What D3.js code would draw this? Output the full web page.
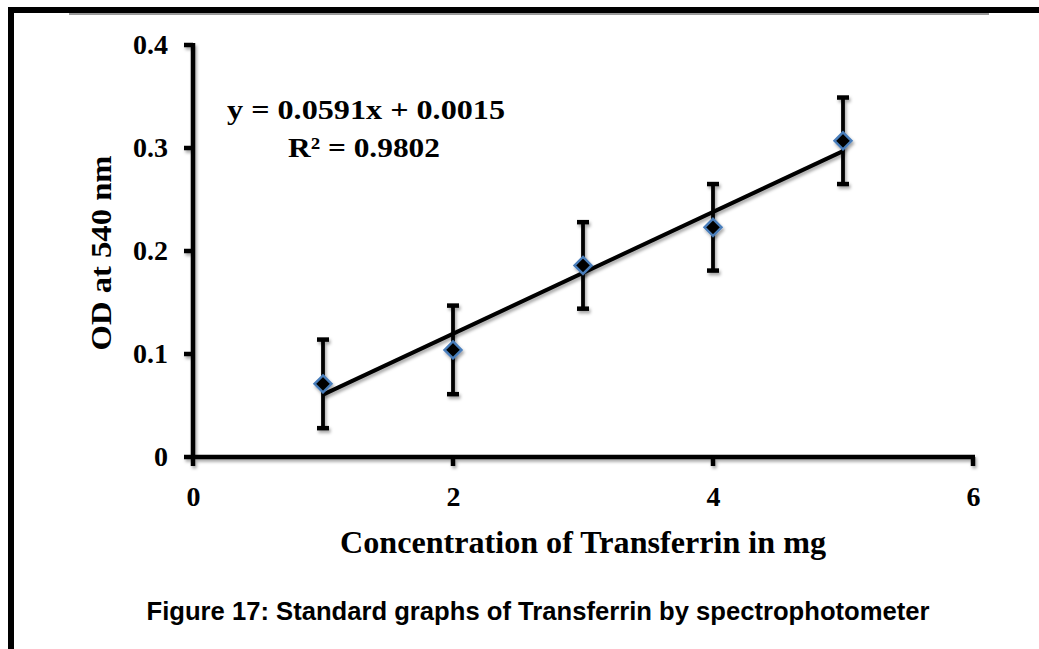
<!DOCTYPE html>
<html>
<head>
<meta charset="utf-8">
<script src="https://cdn.jsdelivr.net/npm/d3@7"></script>
<style>
  html, body { margin: 0; padding: 0; background: #fff; }
  svg { display: block; }
</style>
</head>
<body>
<script>
// ---- data ----
const concentrations = [1, 2, 3, 4, 5];
const odValues = [0.071, 0.104, 0.186, 0.223, 0.307];
const errorValues = [0.043, 0.043, 0.042, 0.042, 0.042];
const xTicks = [0, 2, 4, 6];
const yTicks = [0, 0.1, 0.2, 0.3, 0.4];
const trendSlope = [0.0591];
const trendIntercept = [0.0015];
const equationText = ["y = 0.0591x + 0.0015", "R² = 0.9802"];
const xTitle = "Concentration of Transferrin in mg";
const yTitle = "OD at 540 nm";
const caption = "Figure 17: Standard graphs of Transferrin by spectrophotometer";

const W = 1039, H = 649;
const svg = d3.select("body").append("svg").attr("width", W).attr("height", H);
svg.append("rect").attr("width", W).attr("height", H).attr("fill", "#fff");

const defs = svg.append("defs");
const f = defs.append("filter").attr("id", "shadow").attr("filterUnits", "userSpaceOnUse")
  .attr("x", 0).attr("y", 0).attr("width", W).attr("height", H);
f.append("feDropShadow").attr("dx", 1.5).attr("dy", 2.5).attr("stdDeviation", 1.5).attr("flood-color", "#000").attr("flood-opacity", 0.35);

// page frame
svg.append("rect").attr("x", 8).attr("y", 7).attr("width", W - 8).attr("height", 6).attr("fill", "#000");
svg.append("rect").attr("x", 8).attr("y", 7).attr("width", 6).attr("height", H - 7).attr("fill", "#000");
svg.append("rect").attr("x", 69).attr("y", 13).attr("width", 920).attr("height", 2).attr("fill", "#9a9a9a");

const x = d3.scaleLinear().domain([0, 6]).range([193, 973]);
const y = d3.scaleLinear().domain([0, 0.4]).range([457, 45]);

const serif = "'Liberation Serif', 'Times New Roman', serif";

// axes (labels via d3 axis, lines drawn explicitly for thickness)
const gx = svg.append("g").attr("transform", `translate(0,${y(0)})`)
  .call(d3.axisBottom(x).tickValues(xTicks).tickSize(8).tickPadding(20).tickFormat(d3.format("d")));
const gy = svg.append("g").attr("transform", `translate(${x(0)},0)`)
  .call(d3.axisLeft(y).tickValues(yTicks).tickSize(8).tickPadding(17).tickFormat(d => d === 0 ? "0" : d3.format(".1f")(d)));
[gx, gy].forEach(g => {
  g.attr("font-size", null).attr("font-family", null);
  g.select(".domain").remove();
  g.selectAll(".tick line").remove();
  g.selectAll(".tick text").attr("fill", "#000")
    .style("font-family", serif).style("font-weight", "bold").style("font-size", "28px");
});
gx.selectAll(".tick text").attr("dy", "0.75em");

const axisLines = svg.append("g").attr("filter", "url(#shadow)")
  .attr("stroke", "#000").attr("stroke-width", 4.5).attr("fill", "none");
axisLines.append("line").attr("x1", x(0) - 2).attr("x2", x(6) + 2).attr("y1", y(0)).attr("y2", y(0));
axisLines.append("line").attr("x1", x(0)).attr("x2", x(0)).attr("y1", y(0) + 2).attr("y2", y(0.4) - 2);
axisLines.selectAll(".xt").data(xTicks).join("line").attr("class", "xt")
  .attr("x1", d => x(d)).attr("x2", d => x(d)).attr("y1", y(0)).attr("y2", y(0) + 9);
axisLines.selectAll(".yt").data(yTicks).join("line").attr("class", "yt")
  .attr("x1", x(0) - 9).attr("x2", x(0)).attr("y1", d => y(d)).attr("y2", d => y(d));

// error bars
const eb = svg.append("g").attr("filter", "url(#shadow)");
concentrations.forEach((c, i) => {
  const cx = x(c), v = odValues[i], e = errorValues[i];
  eb.append("line").attr("x1", cx).attr("x2", cx).attr("y1", y(v + e)).attr("y2", y(v - e))
    .attr("stroke", "#000").attr("stroke-width", 3.8);
  [v + e, v - e].forEach(t => {
    eb.append("line").attr("x1", cx - 6).attr("x2", cx + 6).attr("y1", y(t)).attr("y2", y(t))
      .attr("stroke", "#000").attr("stroke-width", 4.5);
  });
});

// trendline
const xs = d3.extent(concentrations);
svg.append("line").attr("filter", "url(#shadow)")
  .attr("x1", x(xs[0])).attr("y1", y(trendSlope[0] * xs[0] + trendIntercept[0]))
  .attr("x2", x(xs[1])).attr("y2", y(trendSlope[0] * xs[1] + trendIntercept[0]))
  .attr("stroke", "#000").attr("stroke-width", 4);

// markers
svg.append("g").selectAll("path").data(concentrations).join("path")
  .attr("filter", "url(#shadow)")
  .attr("d", (c, i) => {
    const cx = x(c), cy = y(odValues[i]), r = 8.5;
    return `M${cx},${cy - r}L${cx + r},${cy}L${cx},${cy + r}L${cx - r},${cy}Z`;
  })
  .attr("fill", "#000").attr("stroke", "#4a7ebb").attr("stroke-width", 2.4);

// equation
svg.append("text").attr("x", 366).attr("y", 119).attr("text-anchor", "middle")
  .attr("font-family", serif).attr("font-weight", "bold").attr("font-size", 28)
  .attr("textLength", 278).attr("lengthAdjust", "spacingAndGlyphs").text(equationText[0]);
svg.append("text").attr("x", 364).attr("y", 157).attr("text-anchor", "middle")
  .attr("font-family", serif).attr("font-weight", "bold").attr("font-size", 28)
  .attr("textLength", 152).attr("lengthAdjust", "spacingAndGlyphs").text(equationText[1]);

// axis titles
svg.append("text").attr("transform", `translate(111,253) rotate(-90)`).attr("text-anchor", "middle")
  .attr("font-family", serif).attr("font-weight", "bold").attr("font-size", 30)
  .attr("textLength", 195).attr("lengthAdjust", "spacingAndGlyphs").text(yTitle);
svg.append("text").attr("x", 583).attr("y", 553).attr("text-anchor", "middle")
  .attr("font-family", serif).attr("font-weight", "bold").attr("font-size", 31)
  .attr("textLength", 486).attr("lengthAdjust", "spacingAndGlyphs").text(xTitle);

// caption
svg.append("text").attr("x", 538).attr("y", 620).attr("text-anchor", "middle")
  .attr("font-family", "'Liberation Sans', Arial, sans-serif").attr("font-weight", "bold").attr("font-size", 25)
  .attr("textLength", 783).attr("lengthAdjust", "spacingAndGlyphs").text(caption);
</script>
</body>
</html>
